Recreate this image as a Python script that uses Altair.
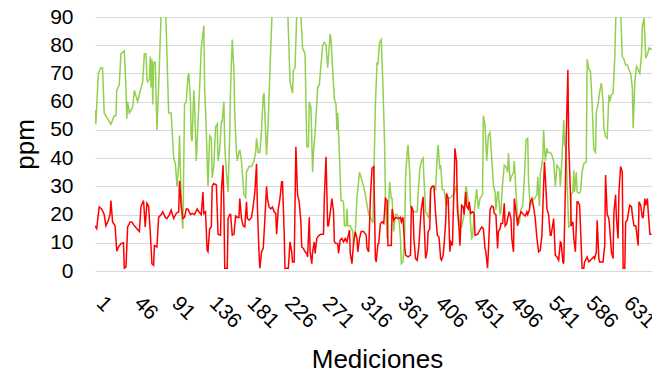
import altair as alt
import pandas as pd

# ---- data ----
x_ticks = [1, 46, 91, 136, 181, 226, 271, 316, 361, 406, 451, 496, 541, 586, 631]
y_ticks = [0, 10, 20, 30, 40, 50, 60, 70, 80, 90]

green_idx = [1, 2, 5, 8, 10, 12, 14, 18, 20, 24, 26, 27, 30, 32, 36, 38, 39, 40, 42, 46,
             48, 51, 52, 56, 58, 60, 62, 63, 64, 66, 67, 68, 69, 70, 71, 73, 75, 77, 81, 85,
             89, 92, 95, 97, 99, 101, 102, 103, 105, 106, 108, 110, 112, 113, 115, 116, 117, 119, 120, 122,
             124, 126, 128, 131, 132, 134, 136, 138, 140, 141, 143, 145, 147, 148, 150, 152, 153, 155, 156, 157,
             159, 160, 162, 163, 165, 167, 168, 170, 171, 173, 174, 176, 178, 179, 181, 182, 185, 188, 191, 193,
             194, 196, 198, 200, 202, 203, 205, 206, 208, 210, 213, 218, 224, 229, 231, 234, 237, 238, 240, 243,
             246, 249, 252, 253, 254, 256, 257, 259, 261, 262, 264, 267, 269, 271, 273, 275, 277, 279, 281, 282,
             283, 285, 287, 289, 290, 291, 292, 295, 297, 298, 299, 301, 302, 303, 306, 309, 310, 312, 314, 317,
             318, 322, 324, 328, 330, 333, 336, 338, 339, 341, 343, 345, 347, 348, 350, 351, 353, 355, 356, 358,
             360, 362, 364, 366, 367, 369, 371, 372, 374, 375, 377, 378, 381, 384, 386, 387, 389, 391, 393, 394,
             396, 398, 400, 402, 404, 406, 408, 410, 411, 413, 414, 416, 418, 421, 423, 426, 430, 433, 435, 437,
             439, 442, 444, 445, 447, 449, 451, 452, 455, 457, 459, 461, 464, 465, 467, 469, 471, 473, 475, 477,
             479, 480, 482, 483, 485, 486, 488, 490, 492, 494, 495, 497, 498, 501, 502, 504, 506, 508, 510, 512,
             514, 516, 518, 519, 521, 523, 526, 529, 530, 532, 533, 536, 537, 539, 541, 542, 545, 547, 549, 551,
             553, 556, 557, 559, 561, 562, 564, 565, 567, 569, 570, 572, 573, 574, 576, 577, 579, 581, 583, 585,
             588, 589, 591, 593, 595, 597, 599, 600, 602, 604, 606, 608, 609, 611, 613, 615, 616, 618, 620, 622,
             624, 627, 629, 631, 633, 635, 637, 639, 641, 643, 644, 646, 648, 650, 652, 654, 655, 657, 659, 661,
             663, 666]
green_val = [57, 52, 70, 72, 72, 56, 55, 53, 52, 55, 55, 64, 66, 77, 78, 65, 54, 60, 56, 58,
             64, 61, 60, 65, 67, 77, 77, 68, 67, 68, 76, 65, 75, 59, 74, 74, 50, 65, 100, 97,
             56, 56, 40, 38, 30, 38, 48, 36, 18, 15, 59, 60, 69, 70, 61, 47, 46, 64, 59, 39,
             52, 65, 79, 87, 65, 49, 30, 48, 47, 33, 37, 51, 52, 39, 43, 53, 53, 60, 45, 39,
             31, 28, 49, 65, 82, 71, 55, 42, 39, 42, 43, 39, 31, 27, 26, 35, 37, 37, 39, 42,
             47, 42, 42, 50, 62, 63, 48, 41, 53, 71, 95, 100, 98, 100, 95, 67, 63, 71, 72, 100,
             96, 79, 77, 61, 44, 44, 60, 58, 35, 42, 49, 65, 66, 73, 80, 81, 80, 72, 80, 84,
             82, 71, 61, 59, 50, 56, 49, 25, 25, 24, 16, 16, 22, 16, 16, 14, 9, 14, 26, 35,
             34, 30, 27, 20, 19, 17, 59, 74, 73, 81, 82, 66, 45, 26, 11.5, 18.6, 31.6, 25.7, 25.7, 14,
             20, 20, 19, 11.5, 2.6, 3.2, 12.7, 33, 42, 44.7, 35, 23, 21, 21, 21, 27, 36, 39, 40, 33,
             21, 20, 18.6, 28.7, 30, 30, 29, 41.5, 44.7, 36, 37.5, 29, 28.7, 23, 25.7, 26, 27.5, 30.5, 21, 16,
             15.6, 20, 30, 29, 24.5, 20, 11.5, 12, 24, 29, 22, 25.7, 27, 55, 52, 39, 48, 49, 40, 30.5,
             28, 21.6, 28, 28, 20, 21, 31, 37.5, 37, 35, 41.7, 31.6, 33, 35, 39, 28, 17.4, 17, 22, 23,
             33, 46.5, 47, 31.6, 23, 24.5, 25.7, 27, 33.4, 23, 34, 40, 50, 39, 43.5, 42, 42, 41, 39, 30,
             37.5, 36, 30, 40, 53.5, 44.7, 43.5, 31.6, 15.6, 16, 27, 28, 35.7, 28, 35, 28, 27.5, 28, 35, 38,
             38.7, 75, 71.6, 70.7, 59, 43, 42, 56.5, 59, 63.6, 66.6, 60, 50.6, 47.6, 47, 62.4, 60, 62.4, 63, 75.5,
             98, 100, 92, 76, 75, 73, 73, 71.3, 70, 65, 50.6, 67, 72.5, 71.3, 70, 77, 86.7, 89.6, 75.5, 76.7,
             79, 78.4]

red_idx = [1, 3, 6, 9, 12, 14, 17, 19, 20, 22, 25, 27, 29, 32, 35, 36, 38, 40, 43, 45,
           48, 51, 54, 56, 59, 61, 63, 65, 67, 69, 71, 72, 75, 77, 80, 82, 85, 87, 90, 92,
           95, 98, 101, 102, 104, 106, 108, 110, 112, 115, 117, 120, 123, 125, 128, 130, 131, 133, 135, 136,
           138, 140, 141, 143, 146, 147, 148, 151, 152, 154, 155, 156, 159, 160, 162, 163, 165, 167, 169, 171,
           173, 174, 176, 178, 180, 182, 183, 185, 188, 190, 192, 194, 195, 197, 198, 200, 202, 204, 206, 207,
           209, 211, 213, 215, 217, 218, 220, 222, 224, 225, 227, 228, 232, 234, 236, 237, 239, 241, 243, 245,
           247, 248, 250, 252, 254, 255, 257, 258, 260, 261, 263, 264, 266, 267, 269, 271, 274, 275, 277, 279,
           280, 283, 284, 286, 287, 289, 291, 292, 294, 296, 298, 300, 302, 305, 306, 308, 310, 312, 314, 315,
           317, 319, 322, 325, 326, 328, 330, 332, 334, 335, 336, 337, 339, 340, 342, 344, 346, 348, 350, 351,
           353, 355, 356, 358, 359, 361, 363, 364, 366, 367, 369, 371, 372, 375, 378, 379, 381, 382, 384, 386,
           388, 390, 391, 393, 394, 396, 398, 399, 401, 402, 404, 406, 408, 410, 412, 414, 415, 417, 418, 420,
           421, 423, 425, 426, 428, 430, 431, 433, 434, 436, 437, 439, 441, 442, 444, 445, 447, 448, 450, 452,
           454, 455, 458, 460, 463, 465, 467, 468, 470, 471, 473, 475, 477, 478, 480, 482, 483, 485, 486, 488,
           490, 491, 493, 494, 496, 498, 499, 501, 502, 504, 506, 507, 509, 510, 512, 513, 515, 517, 518, 520,
           521, 523, 525, 527, 529, 531, 533, 535, 537, 538, 540, 541, 543, 545, 546, 549, 550, 551, 553, 555,
           557, 558, 560, 561, 563, 564, 566, 567, 569, 570, 572, 573, 575, 577, 578, 580, 581, 583, 585, 586,
           588, 589, 591, 593, 595, 597, 598, 600, 601, 603, 604, 607, 608, 610, 611, 613, 615, 616, 618, 620,
           621, 623, 624, 626, 627, 629, 631, 632, 634, 635, 637, 639, 640, 642, 643, 645, 647, 648, 650, 651,
           653, 655, 656, 658, 659, 661, 662, 664, 666]
red_val = [16, 15, 22.7, 22, 20, 16, 18, 20, 25, 17.4, 16, 7, 8.5, 9.7, 10, 1, 1.4, 15.6, 17.4, 17.4,
           16, 15, 14, 23, 25, 15.6, 24, 23, 14, 2.6, 2, 9, 8.5, 19, 20, 21, 19, 18.6, 20, 21.6,
           18.6, 20.4, 21, 32, 23, 18.6, 19, 22, 22, 20, 20.4, 20, 22, 21, 20, 28, 20.4, 21, 7.3, 6.8,
           15, 15.6, 30, 31, 30.5, 22, 13, 12.7, 28, 37.5, 23, 1, 1, 18.6, 20, 20, 12.7, 13, 19.5, 19,
           19, 25.7, 18.6, 16, 15.6, 24.5, 18.6, 18, 19, 23, 28, 38, 23, 6, 1, 6.8, 8, 18.6, 30, 25.7,
           22.7, 22, 22.7, 21, 20.4, 13, 22, 25.7, 31.6, 31.6, 14, 1, 1, 10.3, 6.8, 3.2, 3.2, 44, 27, 24.5,
           17.4, 8.5, 8, 6.8, 6.2, 5, 19, 6.8, 2.6, 6.8, 10.3, 6.2, 11.5, 12, 12.7, 13, 13, 25.7, 40.5, 16,
           16, 23, 25.7, 21, 10.3, 9.7, 9.7, 6.2, 11, 11.5, 10.3, 11.5, 10.3, 14.5, 6.2, 2.6, 10.3, 13.9, 11.5, 6.8,
           11.5, 14, 14, 12.7, 8, 6.8, 25.7, 36.4, 37, 22, 4.4, 3.2, 9.5, 9.7, 16.8, 17.4, 16.8, 25.7, 25, 9,
           9, 9, 22, 18, 18.6, 19, 18.6, 18.6, 19, 17.4, 19, 9, 5.6, 5, 5.6, 23, 21.6, 11.5, 4.4, 3.8,
           9, 18.6, 22, 26.3, 18.6, 4.4, 7.3, 13.9, 15, 29, 30, 30, 20, 12.7, 12, 4.4, 3.8, 5.6, 9, 17.4,
           27.5, 25.7, 6.8, 10.3, 9, 30.5, 43.5, 38.7, 22, 15, 9, 23.3, 22.7, 20, 28, 23, 22, 24.5, 20.4, 21,
           20.4, 12.7, 13, 14, 15.6, 15, 8, 6.8, 1, 6.8, 21.6, 23, 22.7, 20.4, 20, 8, 14, 15, 16.8, 16.8,
           24, 16, 16.8, 18.6, 21, 18.6, 11.5, 6.8, 25.7, 21, 16, 18.6, 20, 21, 20.4, 20, 19.5, 21, 20, 21.6,
           24.5, 25.7, 22.7, 18.6, 11.5, 6.8, 7.3, 12.7, 30.5, 38.7, 28, 22, 20, 12.7, 12.7, 18.6, 12, 5.6, 5, 3.8,
           10.3, 10, 3.2, 2.6, 29, 47, 71.3, 44.7, 28, 16, 17.4, 11.5, 6.8, 24.5, 24.5, 23.3, 16, 1, 1, 3.2,
           4.4, 5, 3.2, 3.8, 4.4, 5, 4.4, 6.8, 18, 4.4, 3.2, 3.2, 3.2, 9, 34, 20, 18.6, 15, 6.8, 4.4,
           21, 27, 18.6, 11.5, 28, 37, 35, 1, 1, 17.4, 18, 22, 23.3, 22.7, 20, 16, 16, 14, 9, 24.5,
           23.3, 19, 19, 25.7, 23.3, 25.7, 21, 13, 13]

df_green = pd.DataFrame({"Medición": green_idx, "ppm": green_val})
df_red = pd.DataFrame({"Medición": red_idx, "ppm": red_val})

x_enc = alt.X(
    "Medición:Q",
    scale=alt.Scale(domain=[1, 666.5], nice=False, zero=False),
    axis=alt.Axis(
        values=x_ticks, title="Mediciones", labelAngle=45, labelAlign="left",
        labelBaseline="alphabetic", labelPadding=33, ticks=False, domain=False,
        grid=False, labelFontSize=21, titleFontSize=26, labelOverlap=False,
        labelFlush=False, titleX=282, titleY=96, titleBaseline="alphabetic",
        titleAlign="center",
    ),
)
y_enc = alt.Y(
    "ppm:Q",
    scale=alt.Scale(domain=[0, 90], nice=False),
    axis=alt.Axis(
        values=y_ticks, title="ppm", labelFontSize=21, titleFontSize=26,
        labelPadding=22, ticks=False, domain=False, grid=True,
        gridColor="#D9D9D9", gridWidth=1, titleX=-61.5, titleY=127,
        titleBaseline="alphabetic", titleAlign="center",
    ),
)

green = alt.Chart(df_green).mark_line(color="#92D050", strokeWidth=1.5, clip=True).encode(
    x=x_enc, y=y_enc
)
red = alt.Chart(df_red).mark_line(color="#FF0000", strokeWidth=1.5, clip=True).encode(
    x=x_enc, y=y_enc
)

chart = (
    alt.layer(green, red)
    .properties(
        width=557,
        height=254,
        autosize=alt.AutoSizeParams(type="none"),
        padding={"left": 95, "top": 17, "right": 0, "bottom": 100},
    )
    .configure_axis(
        labelFont="Liberation Sans", titleFont="Liberation Sans",
        labelColor="#000000", titleColor="#000000", titleFontWeight="normal",
    )
    .configure_view(stroke=None)
)

chart.save("out.html", embed_options={"renderer": "svg", "actions": False})
